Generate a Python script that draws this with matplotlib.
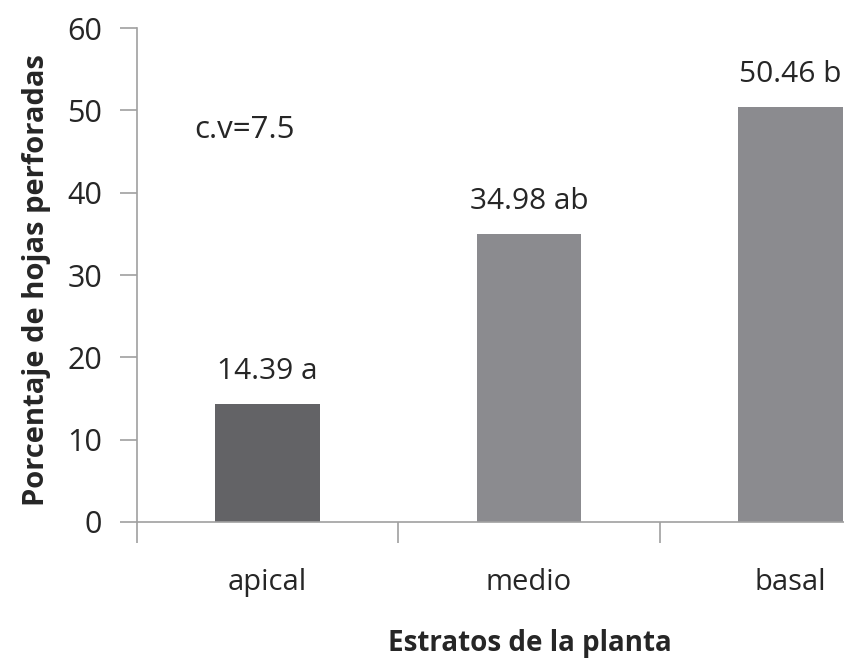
import matplotlib
matplotlib.use("Agg")
import matplotlib.pyplot as plt

categories = ["apical", "medio", "basal"]
values = [14.39, 34.98, 50.46]
letters = ["a", "ab", "b"]
bar_colors = ["#636366", "#8b8b8f", "#8b8b8f"]
yticks = [0, 10, 20, 30, 40, 50, 60]

plt.rcParams['font.family'] = ['Open Sans', 'DejaVu Sans']

fig = plt.figure(figsize=(8.45, 6.58), dpi=100)
ax = fig.add_axes([0.1621, 0.2067, 0.928, 0.7507])

x = list(range(len(categories)))
ax.bar(x, values, width=0.4, color=bar_colors, zorder=2)
for xi, v, l in zip(x, values, letters):
    ax.text(xi, v + 3.0, f"{v:.2f} {l}", ha="center", va="baseline", fontsize=21.5, color="#262626")

ax.text(-0.28, 47.6, "c.v=7.5", ha="left", va="center", fontsize=22.5, color="#262626")

ax.set_xlim(-0.5, 2.5)
ax.set_ylim(0, 60)
ax.set_yticks(yticks)
ax.set_xticks([-0.5, 0.5, 1.5, 2.5])
ax.set_xticklabels([])
ax.set_xticks(x, minor=True)
ax.set_xticklabels(categories, minor=True)
ax.tick_params(axis="x", which="minor", length=0, pad=33, labelsize=21, labelcolor="#262626")
ax.tick_params(axis="x", which="major", length=15, width=1.2, color="#a0a0a0", direction="out")
ax.tick_params(axis="y", length=12, width=1.2, color="#a0a0a0", pad=13, labelsize=22, labelcolor="#262626")

for s in ["top", "right"]:
    ax.spines[s].set_visible(False)
for s in ["left", "bottom"]:
    ax.spines[s].set_color("#a0a0a0")
    ax.spines[s].set_linewidth(1.2)

fig.text(0.627, 0.022, "Estratos de la planta", ha="center", va="center", fontsize=20, fontweight="bold", color="#262626")
fig.text(0.043, 0.574, "Porcentaje de hojas perforadas", ha="center", va="center", rotation=90, fontsize=21, fontweight="bold", color="#262626")

fig.savefig("out.png", dpi=100)
